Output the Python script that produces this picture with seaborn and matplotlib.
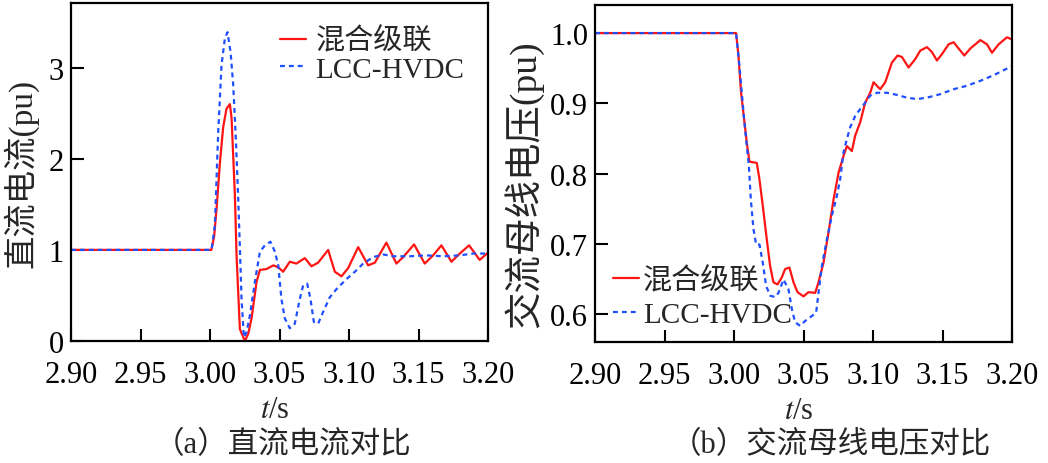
import numpy as np
import pandas as pd
import matplotlib
matplotlib.use("Agg")
import matplotlib.pyplot as plt
from matplotlib.font_manager import FontProperties
import seaborn as sns

# ---------------- data ----------------
# (a) DC current, hybrid cascade (red)
dc_hyb_t = [2.90, 3.001, 3.003, 3.0047, 3.0071, 3.0095, 3.0119, 3.0143, 3.0155, 3.0165,
            3.0179, 3.0191, 3.0215, 3.0251, 3.0275, 3.0299, 3.0335, 3.0359, 3.0407, 3.0455,
            3.0491, 3.0526, 3.0574, 3.0622, 3.0682, 3.0730, 3.0778, 3.0850, 3.0898, 3.0946,
            3.0994, 3.1066, 3.1138, 3.1186, 3.1269, 3.1341, 3.1389, 3.1468, 3.1545, 3.1605,
            3.1665, 3.1737, 3.1797, 3.1864, 3.1940, 3.2000]
dc_hyb_v = [1.0, 1.0, 1.15, 1.45, 1.95, 2.35, 2.55, 2.60, 2.45, 2.10,
            1.60, 0.94, 0.13, 0.0, 0.08, 0.25, 0.65, 0.78, 0.79, 0.83,
            0.81, 0.76, 0.87, 0.85, 0.91, 0.82, 0.86, 1.00, 0.76, 0.71,
            0.80, 1.03, 0.83, 0.86, 1.08, 0.85, 0.92, 1.06, 0.85, 0.94,
            1.05, 0.87, 0.96, 1.05, 0.89, 0.97]
# (a) DC current, LCC-HVDC (blue)
dc_lcc_t = [2.90, 3.0011, 3.0035, 3.0059, 3.0083, 3.0107, 3.0126, 3.0148, 3.0167, 3.0186,
            3.0203, 3.0215, 3.0227, 3.0244, 3.0263, 3.0287, 3.0323, 3.0359, 3.0395, 3.0435,
            3.0467, 3.0491, 3.0514, 3.0538, 3.0574, 3.0610, 3.0646, 3.0670, 3.0699, 3.0723,
            3.0747, 3.0778, 3.0814, 3.0862, 3.0910, 3.0982, 3.1042, 3.1102, 3.1173, 3.1245,
            3.1317, 3.1437, 3.1557, 3.1677, 3.1797, 3.1892, 3.2000]
dc_lcc_v = [1.0, 1.0, 1.27, 2.29, 3.03, 3.32, 3.39, 3.17, 2.81, 2.22,
            1.56, 1.02, 0.46, 0.04, 0.10, 0.28, 0.65, 0.98, 1.05, 1.09,
            0.98, 0.83, 0.46, 0.25, 0.14, 0.19, 0.46, 0.61, 0.63, 0.46,
            0.21, 0.19, 0.32, 0.48, 0.57, 0.68, 0.76, 0.85, 0.92, 0.95,
            0.93, 0.93, 0.94, 0.93, 0.94, 0.96, 0.96]

# (b) AC bus voltage, hybrid cascade (red)
ac_hyb_t = [2.90, 3.0015, 3.0032, 3.0051, 3.0073, 3.0092, 3.0111, 3.0164, 3.0183, 3.0207,
            3.0236, 3.0260, 3.0284, 3.0313, 3.0344, 3.0368, 3.0399, 3.0428, 3.0457, 3.0500,
            3.0536, 3.0584, 3.0608, 3.0644, 3.0680, 3.0716, 3.0752, 3.0788, 3.0812, 3.0848,
            3.0872, 3.0908, 3.0944, 3.0980, 3.1004, 3.1028, 3.1052, 3.1088, 3.1136, 3.1177,
            3.1208, 3.1256, 3.1304, 3.1340, 3.1388, 3.1424, 3.1460, 3.1496, 3.1544, 3.1580,
            3.1616, 3.1657, 3.1700, 3.1772, 3.1820, 3.1856, 3.1904, 3.1964, 3.2000]
ac_hyb_v = [1.0, 1.0, 0.968, 0.915, 0.877, 0.844, 0.817, 0.815, 0.792, 0.754,
            0.706, 0.668, 0.645, 0.642, 0.652, 0.664, 0.666, 0.645, 0.631, 0.625,
            0.631, 0.630, 0.645, 0.673, 0.716, 0.763, 0.801, 0.825, 0.839, 0.832,
            0.854, 0.873, 0.901, 0.915, 0.930, 0.925, 0.920, 0.930, 0.958, 0.968,
            0.966, 0.951, 0.963, 0.975, 0.980, 0.973, 0.961, 0.970, 0.984, 0.987,
            0.978, 0.968, 0.978, 0.990, 0.984, 0.972, 0.984, 0.994, 0.991]
# (b) AC bus voltage, LCC-HVDC (blue)
ac_lcc_t = [2.90, 3.0015, 3.0039, 3.0056, 3.0073, 3.0092, 3.0107, 3.0121, 3.0140, 3.0159,
            3.0183, 3.0207, 3.0231, 3.0260, 3.0296, 3.0320, 3.0356, 3.0392, 3.0416, 3.0440,
            3.0476, 3.0512, 3.0560, 3.0591, 3.0608, 3.0632, 3.0668, 3.0704, 3.0740, 3.0764,
            3.0788, 3.0812, 3.0836, 3.0872, 3.0908, 3.0944, 3.0980, 3.1028, 3.1100, 3.1172,
            3.1244, 3.1316, 3.1388, 3.1484, 3.1580, 3.1676, 3.1772, 3.1868, 3.2000]
ac_lcc_v = [1.0, 1.0, 0.953, 0.915, 0.877, 0.839, 0.811, 0.763, 0.721, 0.699,
            0.699, 0.673, 0.640, 0.626, 0.624, 0.630, 0.649, 0.635, 0.607, 0.588,
            0.583, 0.590, 0.597, 0.602, 0.630, 0.668, 0.706, 0.740, 0.768, 0.792,
            0.830, 0.849, 0.866, 0.882, 0.892, 0.901, 0.911, 0.915, 0.915, 0.912,
            0.908, 0.906, 0.908, 0.913, 0.920, 0.925, 0.932, 0.940, 0.953]

series_names = ["混合级联", "LCC-HVDC"]
x_ticks = [2.90, 2.95, 3.00, 3.05, 3.10, 3.15, 3.20]
dc_yticks = [0, 1, 2, 3]
ac_yticks = [0.6, 0.7, 0.8, 0.9, 1.0]

# ---------------- style ----------------
sns.set_theme(style="ticks")
FAM = ["Liberation Serif", "Noto Sans CJK SC"]
plt.rcParams["font.family"] = FAM
plt.rcParams["mathtext.fontset"] = "stix"
plt.rcParams["axes.unicode_minus"] = False

RED = "#ff1414"
BLUE = "#1f50ff"

fig = plt.figure(figsize=(10.48, 4.64), dpi=100)
W, H = 1048, 464
ax1 = fig.add_axes([71 / W, (H - 342) / H, 417 / W, 338 / H])
ax2 = fig.add_axes([595 / W, (H - 343) / H, 417 / W, 337 / H])

def make_df(t1, v1, t2, v2):
    d1 = pd.DataFrame({"t": t1, "v": v1, "s": series_names[0]})
    d2 = pd.DataFrame({"t": t2, "v": v2, "s": series_names[1]})
    return pd.concat([d1, d2], ignore_index=True)

df_dc = make_df(dc_hyb_t, dc_hyb_v, dc_lcc_t, dc_lcc_v)
df_ac = make_df(ac_hyb_t, ac_hyb_v, ac_lcc_t, ac_lcc_v)

for ax, df in [(ax1, df_dc), (ax2, df_ac)]:
    sns.lineplot(data=df, x="t", y="v", hue="s", style="s",
                 palette={series_names[0]: RED, series_names[1]: BLUE},
                 dashes={series_names[0]: "", series_names[1]: (2.2, 1.8)},
                 linewidth=1.6, estimator=None, sort=False, ax=ax, legend=True)

tick_fp = FontProperties(family=FAM, size=22)
for ax in (ax1, ax2):
    ax.set_xlim(2.90, 3.20)
    ax.set_xticks(x_ticks)
    ax.set_xticklabels([f"{v:.2f}" for v in x_ticks], fontproperties=tick_fp)
    ax.tick_params(axis="both", direction="in", length=9, width=1.5,
                   top=False, right=False, colors="black")
    ax.tick_params(axis="x", pad=14)
    ax.tick_params(axis="y", pad=5)
    for sp in ax.spines.values():
        sp.set_visible(True)
        sp.set_linewidth(1.6)
        sp.set_color("black")
    ax.set_xlabel("$t$/s", fontsize=22, family=FAM)
    ax.xaxis.set_label_coords(0.5 - 0.012, -0.16)
    ax.grid(False)

ax1.set_ylim(0, 3.71)
ax1.set_yticks(dc_yticks)
ax1.set_yticklabels([str(v) for v in dc_yticks], fontproperties=tick_fp)
ax1.set_ylabel("直流电流(pu)", fontsize=24, family=FAM)
ax1.yaxis.set_label_coords(-0.079, 0.5)

ax2.set_ylim(0.56, 1.04)
ax2.set_yticks(ac_yticks)
ax2.set_yticklabels([f"{v:.1f}" for v in ac_yticks], fontproperties=tick_fp)
ax2.set_ylabel("交流母线电压(pu)", fontsize=27, family=FAM)
ax2.yaxis.set_label_coords(-0.125, 0.47)

leg_fp = FontProperties(family=FAM, size=21)
l1 = ax1.legend(loc="upper right", bbox_to_anchor=(0.985, 0.98), frameon=False, prop=leg_fp,
                handlelength=0.9, handletextpad=0.3, labelspacing=0.05, borderaxespad=0.2)
l2 = ax2.legend(loc="lower left", bbox_to_anchor=(0.0, -0.01), frameon=False, prop=leg_fp,
                handlelength=0.9, handletextpad=0.15, labelspacing=0.25, borderaxespad=0.2)

fig.text(283 / W, (H - 446) / H, "（a）直流电流对比", ha="center", va="center",
         fontsize=22, family=FAM)
fig.text(831 / W, (H - 446) / H, "（b）交流母线电压对比", ha="center", va="center",
         fontsize=22, family=FAM)

fig.savefig("out.png", dpi=100)
